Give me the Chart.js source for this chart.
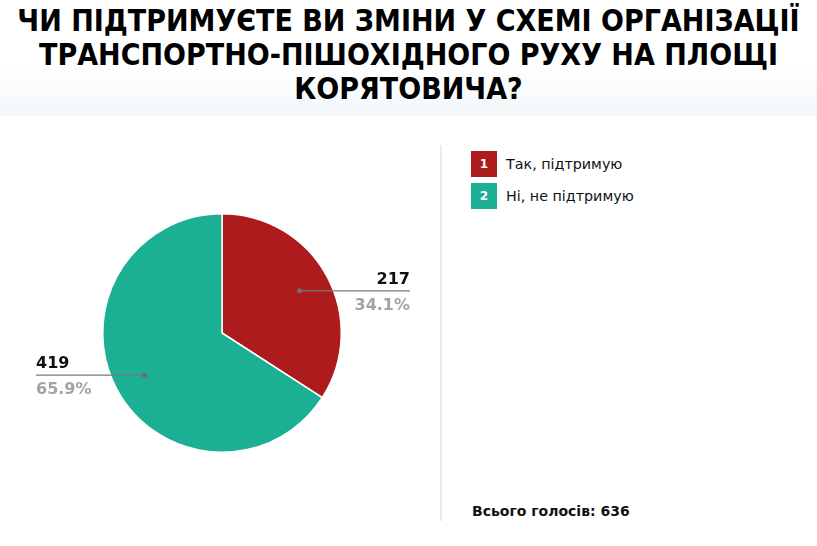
<!DOCTYPE html>
<html><head><meta charset="utf-8">
<script src="https://cdn.jsdelivr.net/npm/chart.js@4/dist/chart.umd.min.js"></script>
<style>
html,body{margin:0;padding:0;width:817px;height:546px;overflow:hidden;background:#fff;font-family:"DejaVu Sans",sans-serif;}
#top{position:absolute;left:0;top:0;width:817px;height:116px;background:linear-gradient(to bottom,#ffffff 55%,#f3f7fa 100%);}
#card{position:absolute;left:5px;top:116px;width:810px;height:430px;background:#fff;}
#title{position:absolute;left:0;top:4px;width:817px;text-align:center;font-family:"DejaVu Sans Condensed","DejaVu Sans",sans-serif;font-weight:bold;font-size:30px;line-height:34px;color:#000;}
#wrap{position:absolute;left:0;top:0;width:817px;height:546px;}
#vline{position:absolute;left:440px;top:145px;width:2px;height:376px;background:#e3edf4;}
#legend{position:absolute;left:471px;top:151px;}
.item{display:flex;align-items:center;height:26px;margin-bottom:6px;}
.box{width:26px;height:26px;color:#fff;font-family:"DejaVu Sans",sans-serif;font-weight:bold;font-size:12px;display:flex;align-items:center;justify-content:center;}
.lab{margin-left:9px;font-family:"DejaVu Sans",sans-serif;font-size:14.3px;color:#111;}
#total{position:absolute;left:472px;top:503px;font-family:"DejaVu Sans",sans-serif;font-weight:bold;font-size:14px;color:#111;}
</style></head><body>
<div id="top"></div><div id="card"></div>
<div id="title">ЧИ ПІДТРИМУЄТЕ ВИ ЗМІНИ У СХЕМІ ОРГАНІЗАЦІЇ<br>ТРАНСПОРТНО-ПІШОХІДНОГО РУХУ НА ПЛОЩІ<br>КОРЯТОВИЧА?</div>
<div id="vline"></div>
<div id="legend"></div>
<div id="total"></div>
<div id="wrap"><canvas id="c" width="817" height="546"></canvas></div>
<script>
const categories = ["Так, підтримую", "Ні, не підтримую"];
const votes = [217, 419];
const percents = ["34.1%", "65.9%"];
const colors = ["#ad1b1c", "#1bb093"];
const totalLabel = "Всього голосів";

const total = votes.reduce((a,b)=>a+b,0);
document.getElementById('total').textContent = totalLabel + ": " + total;
const lg = document.getElementById('legend');
categories.forEach((c,i)=>{
  const d=document.createElement('div');d.className='item';
  d.innerHTML='<div class="box" style="background:'+colors[i]+'">'+(i+1)+'</div><div class="lab">'+c+'</div>';
  lg.appendChild(d);
});

const labelPlugin = {
  id:'leaderLabels',
  afterDatasetsDraw(chart){
    const ctx=chart.ctx;
    const meta=chart.getDatasetMeta(0);
    meta.data.forEach((arc,i)=>{
      const mid=(arc.startAngle+arc.endAngle)/2;
      const r=arc.outerRadius*0.74;
      const px=arc.x+Math.cos(mid)*r, py=arc.y+Math.sin(mid)*r;
      const right=Math.cos(mid)>=0;
      const ex= right ? arc.x+188 : arc.x-186;
      ctx.save();
      ctx.strokeStyle='#7a7a7a';ctx.lineWidth=1.3;
      ctx.beginPath();ctx.moveTo(px,py);ctx.lineTo(ex,py);ctx.stroke();
      ctx.fillStyle='#6e6e6e';ctx.beginPath();ctx.arc(px,py,2.5,0,Math.PI*2);ctx.fill();
      ctx.textAlign= right?'right':'left';
      ctx.textBaseline='alphabetic';
      ctx.font='bold 16px "DejaVu Sans"';ctx.fillStyle='#111';
      ctx.fillText(String(votes[i]),ex,py-7);
      ctx.font='bold 16px "DejaVu Sans"';ctx.fillStyle='#a3a3a3';
      ctx.fillText(percents[i],ex,py+19);
      ctx.restore();
    });
  }
};

new Chart(document.getElementById('c'),{
  type:'pie',
  data:{labels:categories,datasets:[{data:votes,backgroundColor:colors,borderColor:'#ffffff',borderWidth:1.5,hoverOffset:0}]},
  options:{
    responsive:false,animation:false,
    layout:{padding:{left:102,top:213,right:475,bottom:93}},
    plugins:{legend:{display:false},tooltip:{enabled:false}}
  },
  plugins:[labelPlugin]
});
</script>
</body></html>
